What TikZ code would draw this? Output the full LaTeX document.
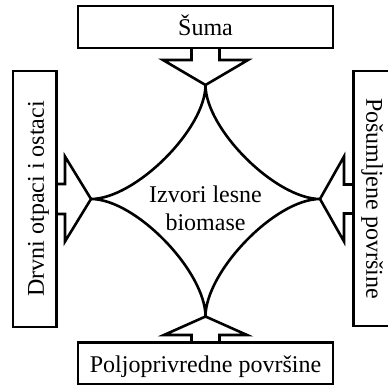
\documentclass[tikz,border=0pt]{standalone}
\usepackage{fontspec}
\setmainfont{Liberation Serif}
\begin{document}
\begin{tikzpicture}[
        x=1pt, y=1pt,
        every node/.style={font=\fontsize{24}{28.4}\selectfont},
        box/.style={rectangle, draw=black, line width=2.6pt, text height=19.2pt, text depth=1.2pt, inner sep=0pt},
        blockarrow/.style={black, line width=2.6pt, line join=miter},
        star/.style={black, line width=2.6pt}
    ]
        \path[use as bounding box, clip] (0,0) rectangle (388,385);

        % Izvori (kutije)
        \node[box, minimum width=255pt, minimum height=42pt] (suma) at (205.5,358) {Šuma};
        \node[box, minimum width=255pt, minimum height=42pt] (poljo) at (205.5,21.5) {Poljoprivredne površine};
        \node[box, rotate=90, minimum width=256pt, minimum height=43.5pt] (drvni) at (34.75,186) {Drvni otpaci i ostaci};
        \node[box, rotate=-90, minimum width=255pt, minimum height=43.5pt] (posum) at (375.25,186.5) {Pošumljene površine};

        % Vrhovi strelica
        \coordinate (tN) at (205.5,300);
        \coordinate (tS) at (205.5,68.5);
        \coordinate (tW) at (91,186);
        \coordinate (tE) at (320,186);

        % Strelice
        \draw[blockarrow] (tN) ++(-14,37) -- ++(0,-12) -- ++(-28.5,0) -- (tN) -- ++(42.5,25) -- ++(-28.5,0) -- ++(0,12);
        \draw[blockarrow] (tS) ++(-14,-26) -- ++(0,7.5) -- ++(-27.5,0) -- (tS) -- ++(41.5,-18.5) -- ++(-27.5,0) -- ++(0,-7.5);
        \draw[blockarrow] (tW) ++(-34.5,15) -- ++(8.5,0) -- ++(0,27.5) -- (tW) -- ++(-26,-42.5) -- ++(0,27.5) -- ++(-8.5,0);
        \draw[blockarrow] (tE) ++(33.5,14.5) -- ++(-9.5,0) -- ++(0,28) -- (tE) -- ++(24,-42.5) -- ++(0,28) -- ++(9.5,0);

        % Zvijezda u sredini
        \draw[star] (tN) to[out=-90, in=0, looseness=0.7] (tW)
            to[out=0, in=90, looseness=0.7] (tS)
            to[out=90, in=180, looseness=0.7] (tE)
            to[out=180, in=-90, looseness=0.7] (tN);
        \node[align=center] (izvori) at (205.5,177) {Izvori lesne\\biomase};
    \end{tikzpicture}
\end{document}
